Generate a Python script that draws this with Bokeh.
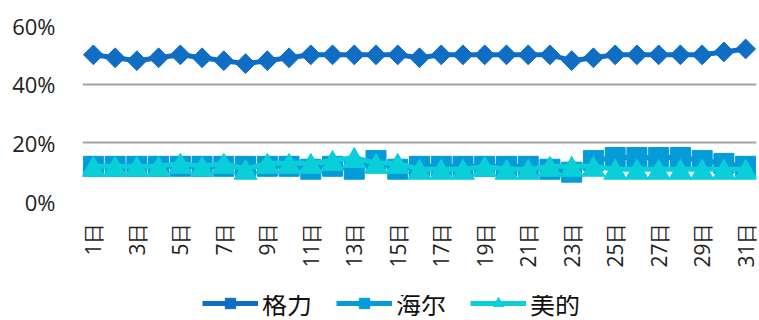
import math
from bokeh.plotting import figure
from bokeh.layouts import column
from bokeh.models import (Range1d, FixedTicker, NumeralTickFormatter, Legend,
                          LegendItem, ColumnDataSource)
from bokeh.transform import dodge
from bokeh.embed import file_html
from bokeh.resources import INLINE

# Daily share per brand (percent), days 1..31
days = list(range(1, 32))
gree = [50, 49, 48, 49, 50, 49, 48, 47, 48, 49, 50, 50, 50, 50, 50, 49,
        50, 50, 50, 50, 50, 50, 48, 49, 50, 50, 50, 50, 50, 51, 52]
haier = [12, 12, 12, 12, 12, 12, 12, 12, 12, 12, 11, 12, 11, 14, 11, 12,
         12, 12, 12, 12, 12, 11, 10, 14, 15, 15, 15, 15, 14, 13, 12]
midea = [12, 12, 12, 12, 13, 12, 13, 11, 13, 13, 13, 14, 15, 13, 13, 11,
         11, 11, 12, 11, 11, 12, 12, 12, 11, 11, 11, 11, 11, 11, 11]
series_names = ["格力", "海尔", "美的"]
y_ticks = [0, 0.2, 0.4, 0.6]
x_ticks = list(range(1, 32, 2))
x_tick_labels = {d: f"{d}日" for d in x_ticks}

colors = ["#0F6DC4", "#049BD8", "#0ACFD9"]
TRI_SIZE = 23
marker_styles = [
    dict(marker="square", angle=math.pi / 4, size=14),   # diamond
    dict(marker="square", size=20),
    dict(marker="triangle", size=TRI_SIZE),
]

FRAME_H = 176
Y_SPAN = 0.6

p = figure(frame_width=674, frame_height=FRAME_H, output_backend="svg",
           toolbar_location=None,
           x_range=Range1d(0.5, 31.5), y_range=Range1d(0, Y_SPAN),
           min_border_left=82, min_border_right=3, min_border_top=25,
           min_border_bottom=94)
p.outline_line_color = None
p.background_fill_color = "white"
p.border_fill_color = "white"

# axes
p.xaxis.ticker = FixedTicker(ticks=x_ticks)
p.xaxis.major_label_overrides = x_tick_labels
p.xaxis.major_label_orientation = math.pi / 2
p.xaxis.axis_line_color = None
p.xaxis.major_tick_line_color = None
p.xaxis.minor_tick_line_color = None
p.xaxis.major_label_standoff = 15
p.xaxis.major_label_text_font = "Open Sans"
p.xaxis.major_label_text_font_size = "21px"
p.xaxis.major_label_text_color = "#222222"

p.yaxis.ticker = FixedTicker(ticks=y_ticks)
p.yaxis.formatter = NumeralTickFormatter(format="0%")
p.yaxis.axis_line_color = None
p.yaxis.major_tick_line_color = None
p.yaxis.minor_tick_line_color = None
p.yaxis.major_label_standoff = 21
p.yaxis.major_label_text_font = "Open Sans"
p.yaxis.major_label_text_font_size = "22px"
p.yaxis.major_label_text_color = "#222222"

p.xgrid.grid_line_color = None
p.ygrid.grid_line_color = "#A3A3A3"
p.ygrid.grid_line_width = 2

sources = [ColumnDataSource(dict(day=days, share=[v / 100 for v in vals]))
           for vals in (gree, haier, midea)]

# Bokeh anchors a triangle at its centroid; shift it down by h/6 so that
# its bounding box is centred on the value, like the other markers.
tri_shift = (TRI_SIZE * math.sqrt(3) / 2) / 6 * Y_SPAN / FRAME_H

for src, color, ms in zip(sources, colors, marker_styles):
    p.line("day", "share", source=src, line_color=color, line_width=5)
    y = "share"
    if ms["marker"] == "triangle":
        y = dodge("share", -tri_shift, range=p.y_range)
    p.scatter("day", y, source=src, fill_color=color, line_color=color, **ms)

# legend strip underneath the chart
lg = figure(width=759, height=26, output_backend="svg", toolbar_location=None,
            x_axis_type=None, y_axis_type=None,
            x_range=Range1d(0, 1), y_range=Range1d(0, 1),
            min_border=0)
lg.outline_line_color = None
lg.grid.visible = False
items = []
for name, src, color, ms in zip(series_names, sources, colors, marker_styles):
    ln = lg.line("day", "share", source=src, line_color=color, line_width=5,
                 visible=False)
    mk = lg.scatter("day", "share", source=src, fill_color=color,
                    line_color=color, visible=False, **ms)
    items.append(LegendItem(label=name, renderers=[ln, mk]))

legend = Legend(items=items, orientation="horizontal", location=(120, 0),
                glyph_width=56, glyph_height=26, spacing=24, label_standoff=4,
                label_text_font="Noto Sans CJK SC", label_text_font_size="25px",
                label_text_color="#111111", border_line_color=None,
                background_fill_alpha=0, padding=0, margin=0, label_height=26,
                inactive_fill_alpha=0)
lg.add_layout(legend, "center")

page = column(p, lg, spacing=0)
open("out.html", "w").write(file_html(page, INLINE))
